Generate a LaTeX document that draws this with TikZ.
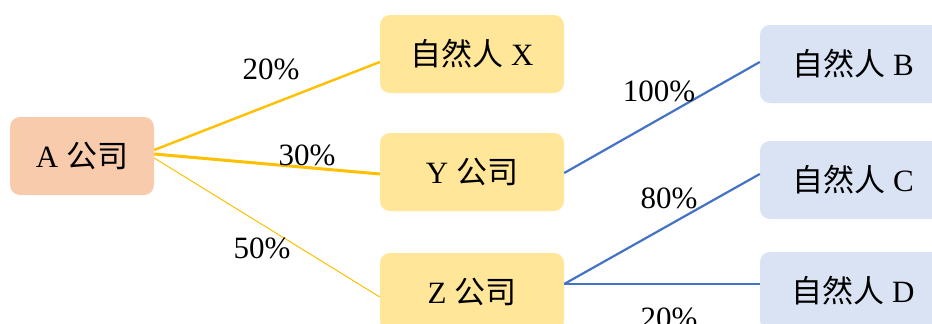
\documentclass[tikz,border=0pt]{standalone}
\usepackage{fontspec}
\setmainfont{Liberation Serif}
\newfontfamily\cjk{Noto Sans CJK SC}
\usetikzlibrary{calc}
\definecolor{peach}{HTML}{F8CBAD}
\definecolor{lightyel}{HTML}{FFE699}
\definecolor{lightblu}{HTML}{DAE3F3}
\definecolor{gold}{HTML}{FFC000}
\definecolor{steel}{HTML}{4472C4}
\tikzset{
  box/.style={rectangle, rounded corners=10pt, inner sep=0pt, minimum height=78pt,
    font=\fontsize{31}{36}\selectfont},
  compbox/.style={box, fill=lightyel, minimum width=184pt},
  personbox/.style={box, fill=lightblu, minimum width=186pt},
  rootbox/.style={box, fill=peach, minimum width=144pt},
  pct/.style={font=\fontsize{31}{36}\selectfont, inner sep=0pt},
  yline/.style={draw=gold},
  bline/.style={draw=steel, line width=2.2pt},
}
\begin{document}
\begin{tikzpicture}[x=1pt,y=-1pt]
\clip (0,0) rectangle (932,324);
\fill[white] (0,0) rectangle (932,324);
\node[rootbox] (A) at (82,156) {A {\cjk 公司}};
\node[compbox] (X) at (472,54) {{\cjk 自然人} X};
\node[compbox] (Y) at (472,172) {Y {\cjk 公司}};
\node[compbox] (Z) at (472,292) {Z {\cjk 公司}};
\node[personbox] (B) at (853,64) {{\cjk 自然人} B};
\node[personbox] (C) at (853,180) {{\cjk 自然人} C};
\node[personbox] (D) at (853,291) {{\cjk 自然人} D};

\draw[yline, line width=2.4pt] ($(A.east)+(0,-6)$) -- ($(X.west)+(0,8)$);
\draw[yline, line width=3pt] ($(A.east)+(0,-2)$) -- ($(Y.west)+(0,2)$);
\draw[yline, line width=1pt] ($(A.east)+(0,2)$) -- ($(Z.west)+(0,5)$);
\draw[bline] ($(Y.east)+(0,1)$) -- ($(B.west)+(0,-2)$);
\draw[bline] ($(Z.east)+(0,-8)$) -- ($(C.west)+(0,-6)$);
\draw[bline] ($(Z.east)+(0,-8)$) -- ($(D.west)+(0,-7)$);

\node[pct] (pX) at (271,69) {20\%};
\node[pct] (pY) at (307,155) {30\%};
\node[pct] (pZ) at (262,248) {50\%};
\node[pct] (pB) at (659,91) {100\%};
\node[pct] (pC) at (669,198) {80\%};
\node[pct] (pD) at (669,318) {20\%};
\end{tikzpicture}
\end{document}
